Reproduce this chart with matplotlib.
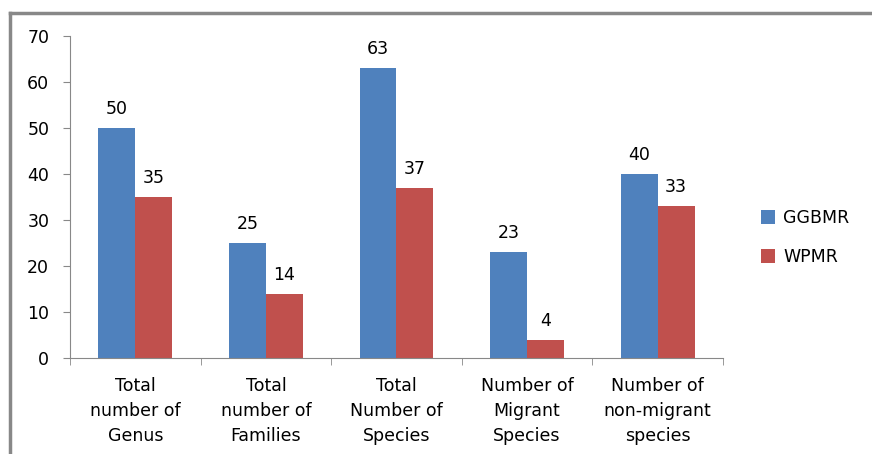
import matplotlib.pyplot as plt
import numpy as np

categories = ['Total\nnumber of\nGenus', 'Total\nnumber of\nFamilies', 'Total\nNumber of\nSpecies',
              'Number of\nMigrant\nSpecies', 'Number of\nnon-migrant\nspecies']
ggbmr = [50, 25, 63, 23, 40]
wpmr = [35, 14, 37, 4, 33]
series_names = ['GGBMR', 'WPMR']
colors = ['#4F81BD', '#C0504D']

fs = 12.5
fig = plt.figure(figsize=(8.72, 4.54), dpi=100)
ax = fig.add_axes([0.0803, 0.2115, 0.7487, 0.7092])

x = np.arange(len(categories))
w = 0.283
for vals, off, col, name in [(ggbmr, -w / 2, colors[0], series_names[0]),
                             (wpmr, w / 2, colors[1], series_names[1])]:
    bars = ax.bar(x + off, vals, width=w, color=col, label=name)
    for b, v in zip(bars, vals):
        ax.annotate(str(v), (b.get_x() + b.get_width() / 2, v), xytext=(0, 7),
                    textcoords='offset points', ha='center', va='bottom', fontsize=fs)

ax.set_xlim(-0.5, len(categories) - 0.5)
ax.set_ylim(0, 70)
ax.set_yticks(range(0, 71, 10))
ax.set_xticks(x)
ax.set_xticklabels(categories, fontsize=fs, linespacing=1.5)
ax.set_xticks(np.arange(-0.5, len(categories)), minor=True)
ax.tick_params(axis='x', which='major', length=0, pad=14)
ax.tick_params(axis='x', which='minor', length=5, color='#888888')
ax.tick_params(axis='y', length=5, color='#888888', pad=10, labelsize=fs)

for s in ['top', 'right']:
    ax.spines[s].set_visible(False)
for s in ['left', 'bottom']:
    ax.spines[s].set_color('#888888')

ax.legend(loc='center left', bbox_to_anchor=(1.035, 0.374), frameon=False, fontsize=fs,
          handlelength=0.8, handleheight=0.8, labelspacing=1.2, handletextpad=0.45)

# chart border (left and top edges visible)
fig.add_artist(plt.Line2D([0.0115, 0.0115], [0, 0.9714], color='#888888', lw=2.5))
fig.add_artist(plt.Line2D([0.0115, 1.0], [0.9714, 0.9714], color='#888888', lw=2.5))

fig.savefig('out.png', dpi=100)
